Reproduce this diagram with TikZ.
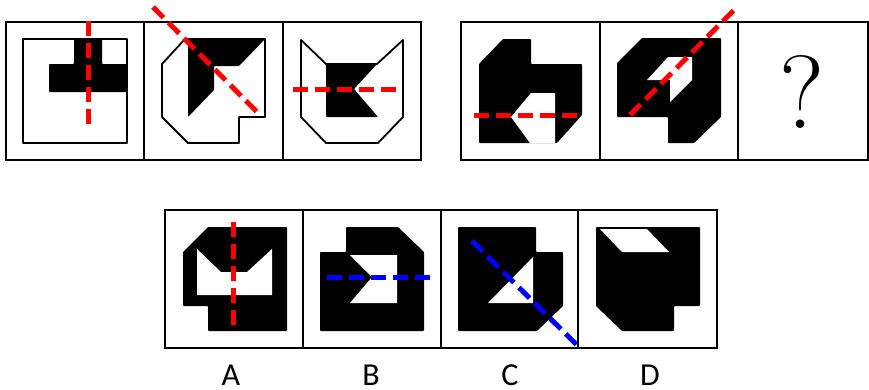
\documentclass[tikz,border=0pt]{standalone}
\usepackage{fontspec}
\newfontfamily\labelfont{Carlito}
\usetikzlibrary{positioning}
\begin{document}
\begin{tikzpicture}[x=1pt,y=-1pt,
  frame/.style={line width=2pt},
  outline/.style={line width=1.8pt,line join=round},
  blot/.style={fill=black,rounded corners=0.8pt},
  hole/.style={fill=white},
  cutred/.style={red,line width=5pt,dash pattern=on 15pt off 7pt},
  cutblue/.style={blue,line width=5pt,dash pattern=on 15pt off 7pt},
  letter/.style={inner sep=0pt,font=\labelfont\fontsize{32}{34}\selectfont}]
\useasboundingbox (0,0) rectangle (869,389);
% frames
\draw[frame] (6,22) rectangle (421,160);
\draw[frame] (461,22) rectangle (868,160);
\draw[frame] (165,210) rectangle (717,348);
\foreach \x in {144,283} \draw[frame] (\x,22) -- (\x,160);
\foreach \x in {600,738} \draw[frame] (\x,22) -- (\x,160);
\foreach \x in {303,441,578} \draw[frame] (\x,210) -- (\x,348);
% top row, first three
\draw[outline] (23,39) rectangle (127,143);
\fill[blot] (74,39) -- (102,39) -- (102,64) -- (127,64) -- (127,92) -- (49,92) -- (49,64) -- (74,64) -- cycle;
\draw[cutred] (88,21) -- (88,127);
\draw[outline] (185,39) -- (265,39) -- (265,117) -- (239,117) -- (239,143) -- (188,143) -- (162,117) -- (162,64) -- cycle;
\fill[blot] (185,39) -- (265,39) -- (239,66) -- (214,66) -- (214,90) -- (188,117) -- (188,42) -- cycle;
\draw[cutred] (153,7) -- (261,116);
\draw[outline] (301,40) -- (326,64) -- (377,64) -- (403,40) -- (403,117) -- (378,143) -- (326,143) -- (301,117) -- cycle;
\fill[blot] (326,64) -- (377,64) -- (354,89) -- (378,117) -- (326,117) -- cycle;
\draw[cutred] (293,89) -- (399,89);
% top row, second three
\fill[blot] (503,39) -- (531,39) -- (531,64) -- (582,64) -- (582,115) -- (557,143) -- (479,143) -- (479,64) -- cycle;
\fill[hole] (531,93) -- (555,93) -- (555,143) -- (530,143) -- (511,117) -- cycle;
\draw[cutred] (474,115) -- (581,115);
\fill[blot] (642,38) -- (721,38) -- (721,117) -- (694,143) -- (668,143) -- (668,117) -- (617,117) -- (617,63) -- cycle;
\fill[hole] (668,57) -- (692,57) -- (692,80) -- (670,102) -- (670,80) -- (647,80) -- cycle;
\draw[cutred] (630,115) -- (737,7);
\node (qmark) at (802,92) {\fontsize{104}{106}\selectfont ?};
% options
\fill[blot] (208,227) -- (287,227) -- (287,331) -- (208,331) -- (208,306) -- (183,306) -- (183,252) -- cycle;
\fill[hole] (197,249) -- (197,295) -- (272,295) -- (272,249) -- (247,272) -- (221,272) -- cycle;
\draw[cutred] (233,222) -- (233,328);
\fill[blot] (346,227) -- (398,227) -- (424,252) -- (424,331) -- (320,331) -- (320,252) -- (346,252) -- cycle;
\fill[hole] (350,255) -- (397,255) -- (397,303) -- (350,303) -- (372,277) -- cycle;
\draw[cutblue] (327,277) -- (433,277);
\fill[blot] (458,227) -- (536,227) -- (536,252) -- (563,252) -- (563,306) -- (537,331) -- (458,331) -- cycle;
\fill[hole] (533,257) -- (533,303) -- (488,303) -- cycle;
\draw[cutblue] (472,241) -- (579,347);
\fill[blot] (596,227) -- (700,227) -- (700,306) -- (674,306) -- (674,331) -- (622,331) -- (596,306) -- cycle;
\fill[hole] (600,229) -- (647,229) -- (669,252) -- (622,252) -- cycle;
\foreach \x/\t in {231/A,371/B,510/C,650/D}
  \node[letter] (lab\t) at (\x,375.5) {\t};
\end{tikzpicture}
\end{document}
